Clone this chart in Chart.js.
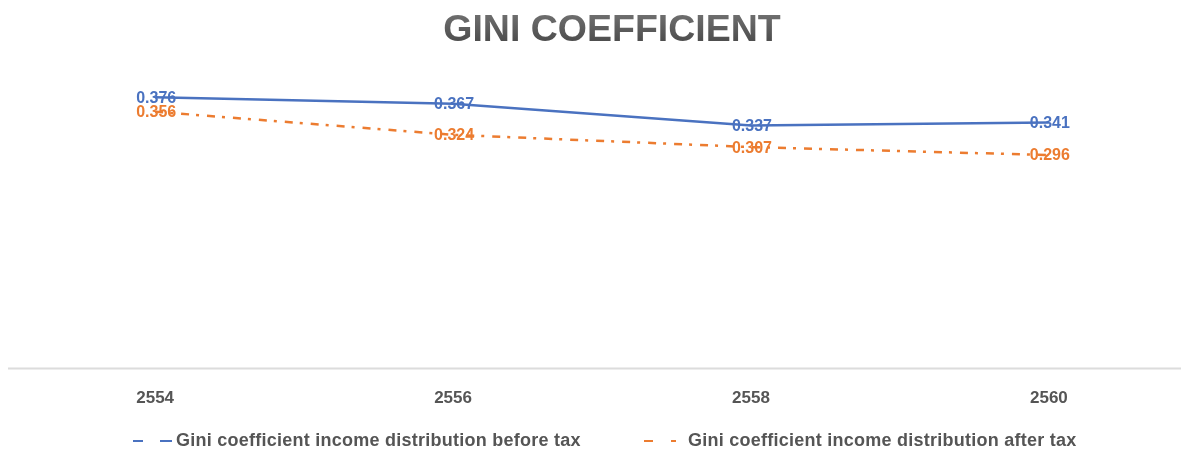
<!DOCTYPE html>
<html>
<head>
<meta charset="utf-8">
<script src="https://cdn.jsdelivr.net/npm/chart.js@4"></script>
<style>
  html, body { margin: 0; padding: 0; background: #fff; }
  #wrap { width: 1181px; height: 450px; position: relative; }
</style>
</head>
<body>
<div id="wrap"><canvas id="c" width="1181" height="450"></canvas></div>
<script>
const titleText = 'GINI COEFFICIENT';
const years = [2554, 2556, 2558, 2560];
const tickLabels = ['2554', '2556', '2558', '2560'];
const beforeTax = [0.376, 0.367, 0.337, 0.341];
const afterTax = [0.356, 0.324, 0.307, 0.296];
const seriesNames = ['Gini coefficient income distribution before tax', 'Gini coefficient income distribution after tax'];

const BLUE = '#4a72c0';
const ORANGE = '#ec7c30';
const ORANGE_DASH = [8, 7, 3, 8];
const FONT = '"Liberation Sans", Arial, sans-serif';

const titlePlugin = {
  id: 'titleP',
  afterDraw(chart) {
    const ctx = chart.ctx;
    ctx.save();
    ctx.font = 'bold 37.5px ' + FONT;
    ctx.textAlign = 'center';
    ctx.textBaseline = 'middle';
    const g = ctx.createLinearGradient(0, 15, 0, 44);
    g.addColorStop(0, '#6e6e6e');
    g.addColorStop(1, '#4a4a4a');
    ctx.fillStyle = g;
    ctx.fillText(titleText, 612, 31);
    ctx.restore();
  }
};

const baselinePlugin = {
  id: 'baseline',
  beforeDatasetsDraw(chart) {
    const ctx = chart.ctx, a = chart.chartArea;
    ctx.save();
    ctx.strokeStyle = '#dcdcdc';
    ctx.lineWidth = 2;
    ctx.beginPath();
    ctx.moveTo(8, a.bottom);
    ctx.lineTo(1181, a.bottom);
    ctx.stroke();
    ctx.restore();
  }
};

const labelPlugin = {
  id: 'dlabels',
  afterDatasetsDraw(chart) {
    const ctx = chart.ctx;
    ctx.save();
    ctx.font = 'bold 16px ' + FONT;
    ctx.textAlign = 'center';
    ctx.textBaseline = 'middle';
    chart.data.datasets.forEach((ds, i) => {
      const meta = chart.getDatasetMeta(i);
      ctx.fillStyle = ds.borderColor;
      meta.data.forEach((pt, j) => {
        ctx.fillText(ds.data[j].y.toFixed(3), pt.x + 1, pt.y + 1);
      });
    });
    ctx.restore();
  }
};

const legendPlugin = {
  id: 'legendP',
  afterDraw(chart) {
    const ctx = chart.ctx;
    const y = 441;
    ctx.save();
    ctx.lineWidth = 2;
    ctx.strokeStyle = BLUE;
    ctx.beginPath(); ctx.moveTo(133, y); ctx.lineTo(143, y); ctx.stroke();
    ctx.beginPath(); ctx.moveTo(160, y); ctx.lineTo(172, y); ctx.stroke();
    ctx.strokeStyle = ORANGE;
    ctx.beginPath(); ctx.moveTo(644, y); ctx.lineTo(653, y); ctx.stroke();
    ctx.beginPath(); ctx.moveTo(671, y); ctx.lineTo(676, y); ctx.stroke();
    ctx.font = 'bold 18px ' + FONT;
    ctx.letterSpacing = '0.25px';
    ctx.fillStyle = '#555';
    ctx.textAlign = 'left';
    ctx.textBaseline = 'middle';
    ctx.fillText(seriesNames[0], 176, y);
    ctx.fillText(seriesNames[1], 688, y);
    ctx.restore();
  }
};

const toPts = arr => arr.map((v, i) => ({ x: years[i], y: v }));

new Chart(document.getElementById('c'), {
  type: 'line',
  data: {
    datasets: [
      { label: seriesNames[0], data: toPts(beforeTax), borderColor: BLUE, borderWidth: 2.5, pointRadius: 0, tension: 0, fill: false },
      { label: seriesNames[1], data: toPts(afterTax), borderColor: ORANGE, borderWidth: 2.5, borderDash: ORANGE_DASH, pointRadius: 0, tension: 0, fill: false }
    ]
  },
  options: {
    responsive: false,
    animation: false,
    layout: { padding: { top: 80, left: 8, right: 0, bottom: 21 } },
    plugins: { legend: { display: false }, tooltip: { enabled: false }, title: { display: false } },
    scales: {
      x: {
        type: 'linear',
        min: 2553.012,
        max: 2560.887,
        afterBuildTicks: s => { s.ticks = years.map(v => ({ value: v })); },
        grid: { display: false, drawTicks: false },
        border: { display: false },
        ticks: {
          padding: 20,
          autoSkip: false,
          maxRotation: 0,
          color: '#555',
          font: { family: FONT, size: 17, weight: 'bold' },
          callback: (v) => tickLabels[years.indexOf(v)]
        }
      },
      y: { display: false, min: 0, max: 0.4 }
    }
  },
  plugins: [baselinePlugin, labelPlugin, titlePlugin, legendPlugin]
});
</script>
</body>
</html>
